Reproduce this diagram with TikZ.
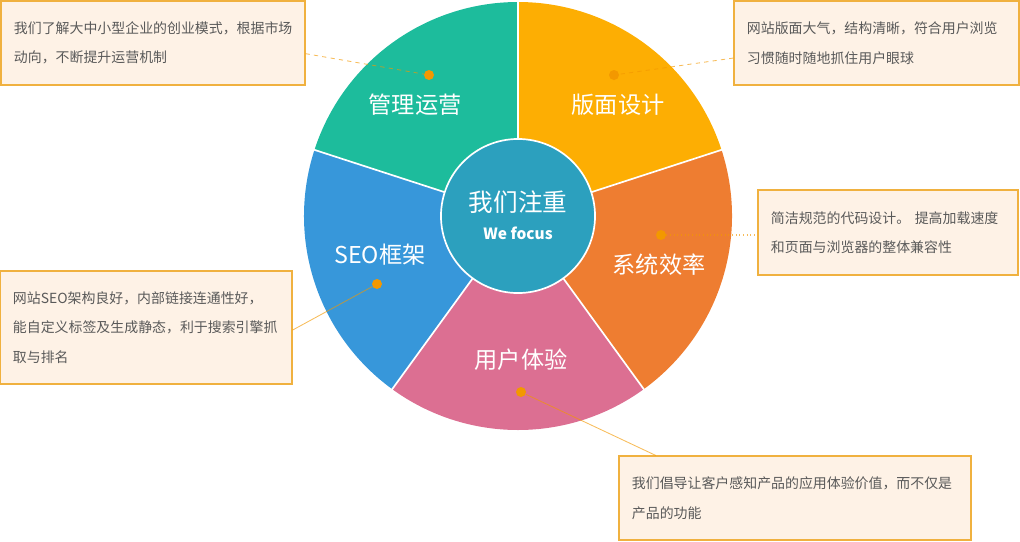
\documentclass[tikz,border=0pt]{standalone}
\usepackage{fontspec}
\setmainfont{Noto Sans CJK SC}
\usetikzlibrary{positioning,calc}
\definecolor{lvse}{HTML}{1DBC9C}
\definecolor{huangse}{HTML}{FDAE03}
\definecolor{chengse}{HTML}{EE7D31}
\definecolor{fense}{HTML}{DC6F92}
\definecolor{lanse}{HTML}{3797DA}
\definecolor{qingse}{HTML}{2CA0BE}
\definecolor{dianse}{HTML}{F39800}
\definecolor{kuangdi}{HTML}{FEF2E6}
\definecolor{kuangbian}{HTML}{F0B13F}
\definecolor{wenzi}{HTML}{595959}
\tikzset{
  kuang/.style={rectangle,draw=kuangbian,fill=kuangdi,line width=0.8pt,inner xsep=0.325cm,inner ysep=0pt,align=left,text=wenzi,font=\fontsize{9.9pt}{21pt}\selectfont},
  biaoti/.style={text=white,font=\fontsize{16.5pt}{20pt}\selectfont},
  dian/.style={circle,fill=dianse,minimum size=2.5mm,inner sep=0pt},
  yinxian/.style={draw=dianse,line width=0.6pt,opacity=0.65},
  fenge/.style={white,line width=1.2pt},
}

\begin{document}
\begin{tikzpicture}[x=0.025cm,y=0.025cm]
  \useasboundingbox (0,0) rectangle (1020,-541);
  \coordinate (o) at (518,-216);
  % pie
  \fill[lvse] (o) -- ++(90:214) arc[start angle=90,end angle=162,radius=214] -- cycle;
  \fill[huangse] (o) -- ++(18:214) arc[start angle=18,end angle=90,radius=214] -- cycle;
  \fill[chengse] (o) -- ++(-54:214) arc[start angle=-54,end angle=18,radius=214] -- cycle;
  \fill[fense] (o) -- ++(-126:214) arc[start angle=-126,end angle=-54,radius=214] -- cycle;
  \fill[lanse] (o) -- ++(162:214) arc[start angle=162,end angle=234,radius=214] -- cycle;
  \draw[fenge] (o) -- ++(90:215); \draw[fenge] (o) -- ++(18:215);
  \draw[fenge] (o) -- ++(-54:215); \draw[fenge] (o) -- ++(-126:215);
  \draw[fenge] (o) -- ++(162:215);
  \node[circle,fill=qingse,draw=white,line width=1.2pt,minimum size=3.85cm,inner sep=0pt] (zhong) at (o) {};
  \node[text=white,font=\fontsize{17.5pt}{20pt}\selectfont] (zt) at (518,-202) {我们注重};
  \node[text=white,font=\fontsize{11pt}{13pt}\selectfont\bfseries] (we) at (518,-233) {We focus};
  % labels
  \node[biaoti] (gl) at (415,-105) {管理运营};
  \node[biaoti] (bm) at (618,-105) {版面设计};
  \node[biaoti] (xt) at (659,-265) {系统效率};
  \node[biaoti] (yh) at (521,-360) {用户体验};
  \node[biaoti] (seo) at (380,-255) {SEO框架};
  % boxes
  \node[kuang,text width=6.95cm,minimum height=2.1cm] (k1) at (153,-43)
    {我们了解大中小型企业的创业模式，根据市场\\动向，不断提升运营机制};
  \node[kuang,text width=6.475cm,minimum height=2.1cm] (k2) at (876.5,-43)
    {网站版面大气，结构清晰，符合用户浏览\\习惯随时随地抓住用户眼球};
  \node[kuang,text width=5.85cm,minimum height=2.125cm] (k3) at (888,-232.5)
    {简洁规范的代码设计。 提高加载速度\\和页面与浏览器的整体兼容性};
  \node[kuang,text width=6.65cm,minimum height=2.825cm] (k4) at (146,-327.5)
    {网站SEO架构良好，内部链接连通性好，\\能自定义标签及生成静态，利于搜索引擎抓\\取与排名};
  \node[kuang,text width=8.15cm,minimum height=2.1cm] (k5) at (795,-498)
    {我们倡导让客户感知产品的应用体验价值，而不仅是\\产品的功能};
  % dots
  \node[dian] (d1) at (429,-75) {};
  \node[dian] (d2) at (614,-75) {};
  \node[dian] (d3) at (661,-235) {};
  \node[dian] (d4) at (377,-284) {};
  \node[dian] (d5) at (521,-392) {};
  % leaders
  \draw[yinxian,dashed] (k1.-4.5) -- (d1);
  \draw[yinxian,dashed] (k2.186.8) -- (d2);
  \draw[yinxian,dotted,line width=0.8pt] (d3) -- (d3 -| k3.west);
  \draw[yinxian] (k4.-1) -- (d4);
  \draw[yinxian] (k5.163.3) -- (d5);
\end{tikzpicture}
\end{document}
